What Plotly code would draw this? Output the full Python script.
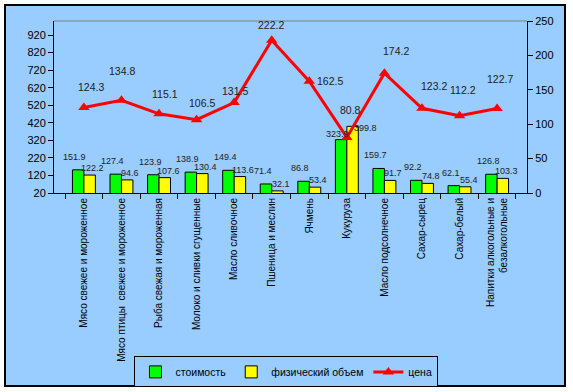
import plotly.graph_objects as go

categories = [
    "Мясо свежее и мороженное",
    "Мясо птицы  свежее и мороженное",
    "Рыба свежая и мороженная",
    "Молоко и сливки сгущенные",
    "Масло сливочное",
    "Пшеница и меслин",
    "Ячмень",
    "Кукуруза",
    "Масло подсолнечное",
    "Сахар-сырец",
    "Сахар-белый",
    "Напитки алкогольные и<br>безалкогольные",
]
cost = [151.9, 127.4, 123.9, 138.9, 149.4, 71.4, 86.8, 323.9, 159.7, 92.2, 62.1, 126.8]
volume = [122.2, 94.6, 107.6, 130.4, 113.6, 32.1, 53.4, 399.8, 91.7, 74.8, 55.4, 103.3]
price = [124.3, 134.8, 115.1, 106.5, 131.5, 222.2, 162.5, 80.8, 174.2, 123.2, 112.2, 122.7]

left_ticks = [20, 120, 220, 320, 420, 520, 620, 720, 820, 920]
right_ticks = [0, 50, 100, 150, 200, 250]

# label offsets (style only, in pixels)
price_dx = [7, 1, 6, 5, 1, -1, 21, 4, 12, 12, 3, 3]
price_dy = [20, 29, 20, 17, 12, 15, 0, 27, 22, 22, 26, 30]
cost_dy = [13, 13, 13, 13, 13, 13, 13, 6, 13, 13, 13, 13]
vol_dx = [9, 9, 9, 9, 9, 9, 9, 19, 9, 9, 9, 9]
vol_dy = [7, 7, 7, 7, 7, 7, 7, -2, 7, 7, 7, 7]

FONT = "Arial, Liberation Sans, sans-serif"
BG = "#99CCFF"

fig = go.Figure()
fig.add_trace(go.Bar(x=categories, y=cost, name="стоимость",
                     marker=dict(color="#00FF00", line=dict(color="black", width=1))))
fig.add_trace(go.Bar(x=categories, y=volume, name="физический объем",
                     marker=dict(color="#FFFF00", line=dict(color="black", width=1))))
fig.add_trace(go.Scatter(x=categories, y=price, name="цена", yaxis="y2",
                         mode="lines+markers",
                         line=dict(color="#FF0000", width=3),
                         marker=dict(symbol="triangle-up", size=10, color="#FF0000")))

ann = []
for c, v, dy in zip(categories, cost, cost_dy):
    ann.append(dict(x=c, y=v, xref="x", yref="y", text=f"{v:.1f}", showarrow=False,
                    xshift=-9, yshift=dy, font=dict(size=9, color="#222222", family=FONT)))
for c, v, dx, dy in zip(categories, volume, vol_dx, vol_dy):
    ann.append(dict(x=c, y=v, xref="x", yref="y", text=f"{v:.1f}", showarrow=False,
                    xshift=dx, yshift=dy, font=dict(size=9, color="#222222", family=FONT)))
for c, v, dx, dy in zip(categories, price, price_dx, price_dy):
    ann.append(dict(x=c, y=v, xref="x", yref="y2", text=f"{v:.1f}", showarrow=False,
                    xshift=dx, yshift=dy, font=dict(size=10.5, color="#222222", family=FONT)))

shapes = [
    dict(type="rect", xref="paper", yref="paper", x0=-0.1036, x1=1.0803, y0=-1.122, y1=1.093,
         fillcolor=BG, line=dict(color="black", width=2), layer="below"),
    dict(type="line", xref="paper", yref="paper", x0=0, x1=1, y0=1, y1=1,
         line=dict(color="#808080", width=1)),
]

fig.update_layout(
    width=573, height=392,
    margin=dict(l=54, r=46, t=21, b=199, autoexpand=False),
    paper_bgcolor="white",
    plot_bgcolor="rgba(0,0,0,0)",
    font=dict(family=FONT, size=11, color="black"),
    barmode="group", bargap=0.39, bargroupgap=0,
    showlegend=True,
    legend=dict(orientation="h", x=0.4915, xanchor="center", y=-1.04, yanchor="middle",
                bgcolor=BG, bordercolor="black", borderwidth=1, itemwidth=30,
                font=dict(size=10.5, family=FONT), traceorder="normal"),
    xaxis=dict(type="category", tickangle=-90, ticks="outside", tickson="boundaries",
               ticklen=5, tickcolor="black", showline=True, linecolor="black",
               showgrid=False, automargin=False, tickfont=dict(size=10, family=FONT)),
    yaxis=dict(range=[20, 1000], tickvals=left_ticks, ticks="outside", ticklen=5,
               tickcolor="black", showline=True, linecolor="black", showgrid=False,
               zeroline=False, automargin=False, tickfont=dict(size=11, family=FONT)),
    yaxis2=dict(range=[0, 250], tickvals=right_ticks, overlaying="y", side="right",
                ticks="outside", ticklen=5, tickcolor="black", showline=True,
                linecolor="black", showgrid=False, zeroline=False, automargin=False,
                tickfont=dict(size=11, family=FONT)),
    annotations=ann,
    shapes=shapes,
)

fig.write_html("out.html", config={"displayModeBar": False},
               post_script="document.body.style.margin='0';document.body.style.padding='0';")
